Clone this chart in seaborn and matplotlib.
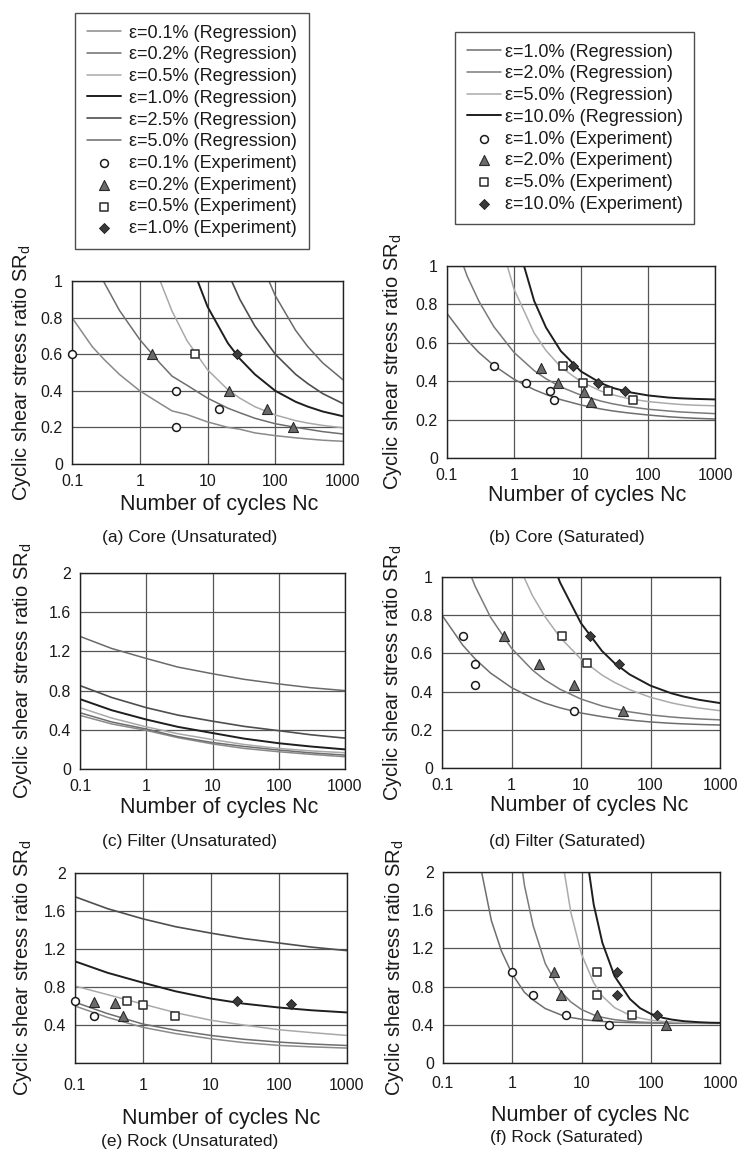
import numpy as np
import pandas as pd
import matplotlib
matplotlib.use("Agg")
import matplotlib.pyplot as plt
import matplotlib.ticker as mticker
import seaborn as sns

W, H = 741, 1152

# Nc grids the regression curves were read at
NC_GRID = [0.1, 0.2, 0.3, 0.5, 1, 2, 3, 5, 10, 20, 30, 50, 100, 200, 300, 500, 1000]
NC_COARSE = [0.1, 0.3, 1, 3, 10, 30, 100, 300, 1000]
NC_ROCK = [0.3, 0.5, 0.7, 1, 1.5, 2, 3, 5, 7, 10, 15, 20, 30, 50, 70, 100, 150, 200, 300, 500, 700, 1000]

# (a) Core (Unsaturated) - regression curves (None = above the plot)
A_REG_01 = [0.80, 0.64, 0.57, 0.49, 0.40, 0.33, 0.29, 0.27, 0.23, 0.20, 0.19, 0.17, 0.155, 0.143, 0.137, 0.13, 0.124]
A_REG_02 = [None, 1.13, 0.99, 0.84, 0.68, 0.55, 0.48, 0.43, 0.36, 0.305, 0.28, 0.25, 0.22, 0.20, 0.19, 0.177, 0.164]
A_REG_05 = [None, None, None, None, 1.38, 1.00, 0.835, 0.673, 0.515, 0.406, 0.36, 0.313, 0.268, 0.237, 0.224, 0.211, 0.198]
A_REG_10 = [None, None, None, None, None, None, None, 1.15, 0.86, 0.66, 0.575, 0.49, 0.40, 0.34, 0.314, 0.287, 0.261]
A_REG_25 = [None, None, None, None, None, None, None, None, None, 1.045, 0.90, 0.754, 0.60, 0.49, 0.44, 0.385, 0.33]
A_REG_50 = [None, None, None, None, None, None, None, None, None, None, None, 1.18, 0.92, 0.73, 0.643, 0.553, 0.46]
# (a) experiments: (Nc, SR)
A_EXP_01 = ([0.1, 3.4, 3.4, 15], [0.6, 0.4, 0.2, 0.3])
A_EXP_02 = ([1.5, 21, 75, 180], [0.6, 0.4, 0.3, 0.2])
A_EXP_05 = ([6.5], [0.6])
A_EXP_10 = ([27], [0.6])

# (b) Core (Saturated)
B_REG_10 = [0.753, 0.614, 0.549, 0.482, 0.41, 0.356, 0.331, 0.304, 0.276, 0.255, 0.245, 0.235, 0.224, 0.215, 0.211, 0.207, 0.203]
B_REG_20 = [1.24, 0.947, 0.816, 0.684, 0.55, 0.455, 0.413, 0.37, 0.327, 0.296, 0.282, 0.268, 0.254, 0.245, 0.24, 0.236, 0.231]
B_REG_50 = [None, None, None, 1.244, 0.88, 0.651, 0.56, 0.474, 0.397, 0.348, 0.329, 0.31, 0.294, 0.284, 0.279, 0.275, 0.272]
B_REG_100 = [None, None, None, None, 1.18, 0.818, 0.68, 0.557, 0.451, 0.389, 0.365, 0.344, 0.326, 0.315, 0.311, 0.308, 0.305]
B_EXP_10 = ([0.5, 1.5, 3.5, 3.9], [0.48, 0.39, 0.35, 0.30])
B_EXP_20 = ([2.5, 4.5, 11, 14], [0.47, 0.39, 0.345, 0.29])
B_EXP_50 = ([5.3, 10.8, 25, 60], [0.48, 0.39, 0.35, 0.30])
B_EXP_100 = ([7.7, 18, 46], [0.48, 0.39, 0.35])

# (c) Filter (Unsaturated)
C_REG_01 = [0.547, 0.46, 0.394, 0.32, 0.256, 0.21, 0.176, 0.15, 0.125]
C_REG_02 = [0.574, 0.48, 0.408, 0.33, 0.27, 0.23, 0.194, 0.165, 0.142]
C_REG_05 = [0.626, 0.52, 0.43, 0.36, 0.30, 0.25, 0.21, 0.185, 0.166]
C_REG_10 = [0.713, 0.60, 0.505, 0.43, 0.367, 0.31, 0.263, 0.23, 0.20]
C_REG_25 = [0.851, 0.73, 0.626, 0.55, 0.488, 0.435, 0.391, 0.35, 0.315]
C_REG_50 = [1.353, 1.23, 1.128, 1.04, 0.972, 0.915, 0.868, 0.83, 0.80]

# (d) Filter (Saturated)
D_REG_10 = [0.80, 0.642, 0.571, 0.497, 0.421, 0.366, 0.34, 0.315, 0.288, 0.269, 0.26, 0.251, 0.241, 0.234, 0.231, 0.228, 0.225]
D_REG_20 = [None, 1.112, 0.951, 0.789, 0.627, 0.513, 0.462, 0.412, 0.361, 0.325, 0.31, 0.294, 0.278, 0.267, 0.262, 0.257, 0.252]
D_REG_50 = [None, None, None, None, 1.14, 0.903, 0.795, 0.684, 0.57, 0.487, 0.449, 0.41, 0.37, 0.341, 0.328, 0.314, 0.30]
D_REG_100 = [None, None, None, None, None, None, 1.19, 0.971, 0.758, 0.613, 0.551, 0.49, 0.431, 0.391, 0.374, 0.357, 0.34]
D_EXP_10 = ([0.2, 0.3, 0.3, 7.9], [0.69, 0.545, 0.435, 0.30])
D_EXP_20 = ([0.78, 2.5, 7.9, 40], [0.69, 0.545, 0.435, 0.30])
D_EXP_50 = ([5.3, 12], [0.69, 0.55])
D_EXP_100 = ([13.6, 35.5], [0.69, 0.545])

# (e) Rock (Unsaturated)
E_REG_01 = [0.60, 0.48, 0.375, 0.31, 0.255, 0.215, 0.185, 0.17, 0.157]
E_REG_02 = [0.64, 0.52, 0.41, 0.345, 0.29, 0.25, 0.22, 0.20, 0.184]
E_REG_05 = [0.81, 0.72, 0.62, 0.53, 0.45, 0.40, 0.35, 0.32, 0.29]
E_REG_10 = [1.07, 0.95, 0.845, 0.755, 0.678, 0.625, 0.584, 0.555, 0.532]
E_REG_25 = [1.75, 1.625, 1.517, 1.435, 1.367, 1.31, 1.263, 1.22, 1.183]
E_EXP_01 = ([0.1, 0.19], [0.65, 0.5])
E_EXP_02 = ([0.19, 0.39, 0.5], [0.64, 0.63, 0.5])
E_EXP_05 = ([0.59, 1.0, 3.0], [0.65, 0.61, 0.5])
E_EXP_10 = ([24, 150], [0.65, 0.62])

# (f) Rock (Saturated)
F_REG_10 = [2.29, 1.49, 1.17, 0.93, 0.74, 0.66, 0.57, 0.505, 0.477, 0.458, 0.442, 0.435, 0.428, 0.423, 0.42, 0.419, 0.417, 0.417, 0.416, 0.416, 0.415, 0.415]
F_REG_20 = [None, None, None, 2.78, 1.86, 1.44, 1.04, 0.75, 0.64, 0.56, 0.504, 0.478, 0.454, 0.436, 0.429, 0.424, 0.421, 0.419, 0.417, 0.416, 0.416, 0.416]
F_REG_50 = [None, None, None, None, None, None, None, 2.24, 1.58, 1.14, 0.84, 0.70, 0.58, 0.50, 0.47, 0.449, 0.435, 0.429, 0.423, 0.419, 0.418, 0.417]
F_REG_100 = [None, None, None, None, None, None, None, None, None, 2.55, 1.66, 1.26, 0.91, 0.67, 0.575, 0.515, 0.473, 0.455, 0.438, 0.427, 0.4225, 0.42]
F_EXP_10 = ([1, 2, 5.9, 25], [0.95, 0.71, 0.5, 0.40])
F_EXP_20 = ([4, 5, 17, 168], [0.95, 0.71, 0.5, 0.40])
F_EXP_50 = ([16.6, 16.6, 53], [0.95, 0.71, 0.5])
F_EXP_100 = ([33, 33, 123], [0.95, 0.71, 0.5])

X_TICKS = [0.1, 1, 10, 100, 1000]
X_TICK_LABELS = ["0.1", "1", "10", "100", "1000"]

# line styles per strain level
LINE_LEFT = {
    "0.1": ("#8a8a8a", 1.1), "0.2": ("#6e6e6e", 1.1), "0.5": ("#a9a9a9", 1.1),
    "1.0": ("#1e1e1e", 1.4), "2.5": ("#4e4e4e", 1.2), "5.0": ("#6a6a6a", 1.1),
}
LINE_RIGHT = {
    "1.0": ("#6e6e6e", 1.1), "2.0": ("#7a7a7a", 1.1), "5.0": ("#ababab", 1.1), "10.0": ("#1e1e1e", 1.4),
}
MARKERS = {
    "o": dict(marker="o", s=32, color="white", edgecolor="#1a1a1a", linewidth=1.1),
    "^": dict(marker="^", s=52, color="#6b6b6b", edgecolor="#2a2a2a", linewidth=0.8),
    "s": dict(marker="s", s=32, color="white", edgecolor="#2a2a2a", linewidth=1.1),
    "D": dict(marker="D", s=26, color="#3a3a3a", edgecolor="#1a1a1a", linewidth=0.6),
}

sns.set_theme(style="white")
plt.rcParams["font.family"] = ["Liberation Sans", "DejaVu Sans"]
plt.rcParams["mathtext.fontset"] = "custom"
plt.rcParams["mathtext.rm"] = "Liberation Sans"
plt.rcParams["mathtext.it"] = "Liberation Sans:italic"
TXT = "#1a1a1a"

fig = plt.figure(figsize=(W / 100, H / 100), dpi=100)


def px_rect(l, t, r, b):
    return [l / W, 1 - b / H, (r - l) / W, (b - t) / H]


def draw_panel(rect, nc, curves, exps, styles, ymax, yticklabels, xpad):
    ax = fig.add_axes(px_rect(*rect))
    ax.set_xscale("log")
    for vals, eps in curves:
        color, lw = styles[eps]
        df = pd.DataFrame({"Nc": nc, "SR": vals}).dropna()
        sns.lineplot(data=df, x="Nc", y="SR", ax=ax, color=color, lw=lw,
                     estimator=None, legend=False, label=f"ε={eps}% (Regression)")
    for (xs, ys), eps, mk in exps:
        sns.scatterplot(x=xs, y=ys, ax=ax, legend=False, clip_on=False, zorder=5,
                        label=f"ε={eps}% (Experiment)", **MARKERS[mk])
    ax.set_xlim(0.1, 1000)
    ax.set_ylim(0, ymax)
    ax.set_xticks(X_TICKS)
    ax.set_xticklabels(X_TICK_LABELS)
    ax.xaxis.set_minor_locator(mticker.NullLocator())
    yt = np.linspace(0, ymax, len(yticklabels))
    ax.set_yticks(yt)
    ax.set_yticklabels(yticklabels)
    ax.set_xlabel("")
    ax.set_ylabel("")
    ax.grid(True, color="#555555", lw=0.9)
    ax.set_axisbelow(True)
    ax.tick_params(length=0, labelsize=11.5, colors=TXT)
    ax.tick_params(axis="x", pad=xpad)
    ax.tick_params(axis="y", pad=6.5)
    for s in ax.spines.values():
        s.set_color("#222222")
        s.set_linewidth(1.0)
    return ax


Y1 = ["0", "0.2", "0.4", "0.6", "0.8", "1"]
Y2 = ["0", "0.4", "0.8", "1.2", "1.6", "2"]
Y2E = ["", "0.4", "0.8", "1.2", "1.6", "2"]

ax_a = draw_panel((72, 281, 343, 464), NC_GRID,
                  [(A_REG_01, "0.1"), (A_REG_02, "0.2"), (A_REG_05, "0.5"),
                   (A_REG_10, "1.0"), (A_REG_25, "2.5"), (A_REG_50, "5.0")],
                  [(A_EXP_01, "0.1", "o"), (A_EXP_02, "0.2", "^"), (A_EXP_05, "0.5", "s"), (A_EXP_10, "1.0", "D")],
                  LINE_LEFT, 1, Y1, 7.5)
ax_b = draw_panel((447, 266, 715, 458), NC_GRID,
                  [(B_REG_10, "1.0"), (B_REG_20, "2.0"), (B_REG_50, "5.0"), (B_REG_100, "10.0")],
                  [(B_EXP_10, "1.0", "o"), (B_EXP_20, "2.0", "^"), (B_EXP_50, "5.0", "s"), (B_EXP_100, "10.0", "D")],
                  LINE_RIGHT, 1, Y1, 7.5)
ax_c = draw_panel((80, 573, 345, 769), NC_COARSE,
                  [(C_REG_01, "0.1"), (C_REG_02, "0.2"), (C_REG_05, "0.5"),
                   (C_REG_10, "1.0"), (C_REG_25, "2.5"), (C_REG_50, "5.0")],
                  [], LINE_LEFT, 2, Y2, 7.5)
ax_d = draw_panel((442, 577, 720, 768), NC_GRID,
                  [(D_REG_10, "1.0"), (D_REG_20, "2.0"), (D_REG_50, "5.0"), (D_REG_100, "10.0")],
                  [(D_EXP_10, "1.0", "o"), (D_EXP_20, "2.0", "^"), (D_EXP_50, "5.0", "s"), (D_EXP_100, "10.0", "D")],
                  LINE_RIGHT, 1, Y1, 7.5)
ax_e = draw_panel((75, 873, 347, 1063), NC_COARSE,
                  [(E_REG_01, "0.1"), (E_REG_02, "0.2"), (E_REG_05, "0.5"),
                   (E_REG_10, "1.0"), (E_REG_25, "2.5")],
                  [(E_EXP_01, "0.1", "o"), (E_EXP_02, "0.2", "^"), (E_EXP_05, "0.5", "s"), (E_EXP_10, "1.0", "D")],
                  LINE_LEFT, 2, Y2E, 11)
ax_f = draw_panel((443, 872, 720, 1063), NC_ROCK,
                  [(F_REG_10, "1.0"), (F_REG_20, "2.0"), (F_REG_50, "5.0"), (F_REG_100, "10.0")],
                  [(F_EXP_10, "1.0", "o"), (F_EXP_20, "2.0", "^"), (F_EXP_50, "5.0", "s"), (F_EXP_100, "10.0", "D")],
                  LINE_RIGHT, 2, Y2, 9.5)

# axis titles and captions, placed in pixel coordinates
YLAB = "Cyclic shear stress ratio SR$_{\\mathrm{d}}$"
panels = [
    # ylabel x, axes (top, bottom), xlabel (x, baseline), caption (x, baseline, text)
    (22, (281, 464), (219, 510), (190, 542, "(a) Core (Unsaturated)")),
    (393, (266, 458), (587, 501), (567, 542, "(b) Core (Saturated)")),
    (23, (573, 769), (219, 813), (190, 846, "(c) Filter (Unsaturated)")),
    (393, (577, 768), (589, 811), (567, 846, "(d) Filter (Saturated)")),
    (23, (873, 1063), (221, 1124), (190, 1146, "(e) Rock (Unsaturated)")),
    (394, (872, 1063), (590, 1121), (567, 1142, "(f) Rock (Saturated)")),
]
for ylx, (top, bot), (xlx, xly), (cx, cy, cap) in panels:
    fig.text(ylx / W, 1 - (top + bot) / 2 / H, YLAB, rotation=90, ha="center", va="center",
             fontsize=14.5, color=TXT)
    fig.text(xlx / W, 1 - xly / H, "Number of cycles Nc", ha="center", va="baseline",
             fontsize=15.5, color=TXT)
    fig.text(cx / W, 1 - cy / H, cap, ha="center", va="baseline", fontsize=12.5, color=TXT)

# legends taken from panels (a) and (b)
for ax, (lx, ly), tpad in [(ax_a, (75, 13), 0.45), (ax_b, (455, 32), 0.2)]:
    h, l = ax.get_legend_handles_labels()
    leg = fig.legend(h, l, loc="upper left", bbox_to_anchor=(lx / W, 1 - ly / H),
                     frameon=True, fancybox=False, fontsize=13, handlelength=1.9,
                     handletextpad=tpad, labelspacing=0.26, borderpad=0.65,
                     borderaxespad=0, scatterpoints=1)
    leg.get_frame().set_edgecolor("#222222")
    leg.get_frame().set_linewidth(1.0)
    for t in leg.get_texts():
        t.set_color(TXT)

fig.savefig("out.png", dpi=100, facecolor="white")
